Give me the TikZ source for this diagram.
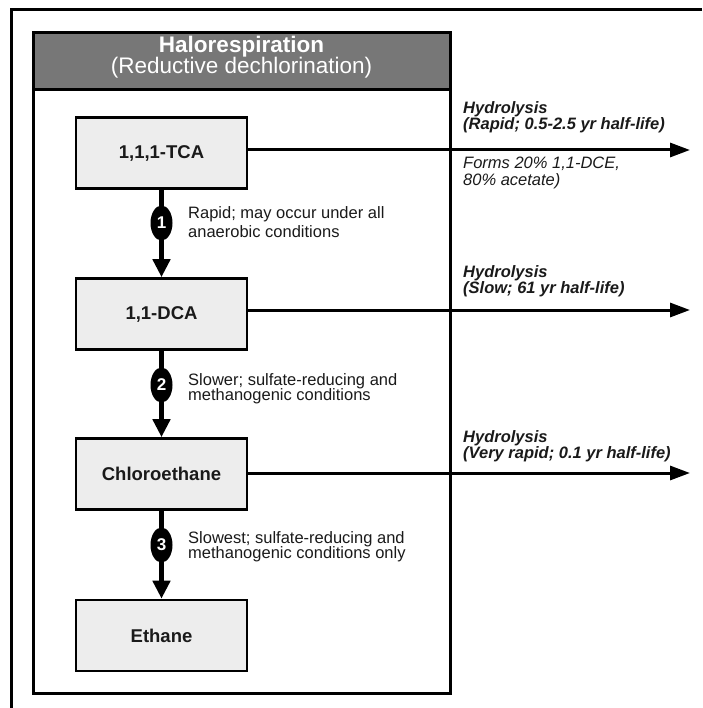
\documentclass[tikz,border=0pt]{standalone}
\usepackage{fontspec}
\setmainfont{Liberation Sans}
\usetikzlibrary{arrows.meta,shapes.geometric}
\definecolor{boxgray}{HTML}{EDEDED}
\definecolor{headgray}{HTML}{777777}
\definecolor{txt}{HTML}{1A1A1A}
\begin{document}
\begin{tikzpicture}[x=1pt,y=-1pt,
  frame/.style={draw=black, line width=3pt},
  chem/.style={draw=black, line width=2.6pt, fill=boxgray, minimum width=171pt,
    minimum height=71pt, inner sep=0pt, text=txt,
    font=\fontsize{18.5}{20}\selectfont\bfseries},
  badge/.style={ellipse, fill=black, minimum width=22pt, minimum height=35pt,
    inner sep=0pt, text=white, font=\fontsize{17}{17}\selectfont\bfseries},
  vflow/.style={line width=5pt, -{Triangle[length=18pt,width=17pt]}},
  hflow/.style={line width=3pt, -{Triangle[length=20pt,width=14pt]}},
  cond/.style={anchor=north west, inner sep=0pt, align=left, text=txt},
  hyd/.style={anchor=north west, inner sep=0pt, align=left, text=txt,
    font=\fontsize{16.5}{16.5}\selectfont\bfseries\itshape},
  note/.style={anchor=north west, inner sep=0pt, align=left, text=txt,
    font=\fontsize{16.5}{17}\selectfont\itshape}]
\useasboundingbox (0,0) rectangle (702,708);
% outer frame (only left and top edges visible)
\draw[frame] (702,10) -- (11,10) -- (11,708);
% inner panel
\draw[frame] (33,33) rectangle (450,693);
\draw[frame, fill=headgray] (33,33) rectangle (450,90);
\node[anchor=north, inner sep=0pt, align=center, text=white,
  font=\fontsize{22.5}{21}\selectfont] (header) at (241.5,36)
  {\textbf{Halorespiration}\\(Reductive dechlorination)};
% compounds
\node[chem] (tca) at (161.5,153) {1,1,1-TCA};
\node[chem] (dca) at (161.5,314) {1,1-DCA};
\node[chem] (ca)  at (161.5,474) {Chloroethane};
\node[chem] (eth) at (161.5,635.5) {Ethane};
% dechlorination steps
\draw[vflow] (tca.south) -- (dca.north);
\draw[vflow] (dca.south) -- (ca.north);
\draw[vflow] (ca.south) -- (eth.north);
\node[badge] (b1) at (161.5,223) {1};
\node[badge] (b2) at (161.5,385) {2};
\node[badge] (b3) at (161.5,545) {3};
\node[cond, font=\fontsize{16.5}{19}\selectfont] (c1) at (188,206)
  {Rapid; may occur under all\\anaerobic conditions};
\node[cond, font=\fontsize{16.5}{15.5}\selectfont] (c2) at (188,373)
  {Slower; sulfate-reducing and\\methanogenic conditions};
\node[cond, font=\fontsize{16.5}{15.5}\selectfont] (c3) at (188,531)
  {Slowest; sulfate-reducing and\\methanogenic conditions only};
% hydrolysis
\coordinate (h1) at (690,150);
\coordinate (h2) at (690,310);
\coordinate (h3) at (690,473);
\draw[hflow] (tca.east |- h1) -- (h1);
\draw[hflow] (dca.east |- h2) -- (h2);
\draw[hflow] (ca.east |- h3) -- (h3);
\node[hyd] (y1) at (463,101) {Hydrolysis\\(Rapid; 0.5-2.5 yr half-life)};
\node[note] (n1) at (463,157) {Forms 20\% 1,1-DCE,\\80\% acetate)};
\node[hyd] (y2) at (463,265) {Hydrolysis\\(Slow; 61 yr half-life)};
\node[hyd] (y3) at (463,430) {Hydrolysis\\(Very rapid; 0.1 yr half-life)};
\end{tikzpicture}
\end{document}
